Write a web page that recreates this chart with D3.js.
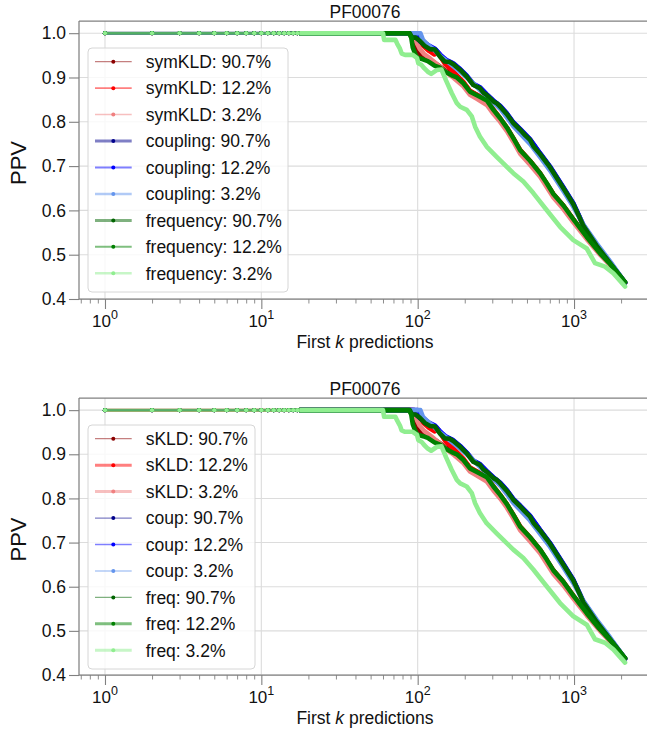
<!DOCTYPE html>
<html>
<head>
<meta charset="utf-8">
<script src="https://cdn.jsdelivr.net/npm/d3@7"></script>
<style>
  html, body { margin: 0; padding: 0; background: #fff; }
  svg { display: block; font-family: "Liberation Sans", Arial, Helvetica, sans-serif; }
</style>
</head>
<body>
<svg id="chart" width="647" height="731"></svg>
<script>
// ---- data -------------------------------------------------------------
const family = "PF00076";
const fractions = ["90.7%", "12.2%", "3.2%"];
const methodsTop = ["symKLD", "coupling", "frequency"];
const methodsBottom = ["sKLD", "coup", "freq"];
const xTickPowers = [0, 1, 2, 3];
const yTicks = [0.4, 0.5, 0.6, 0.7, 0.8, 0.9, 1.0];
// first predictions, drawn as separate markers on the PPV = 1 plateau
const leadK = [1, 2, 3, 4, 5, 6, 7, 8, 9, 10, 11, 12, 13, 14, 15, 16, 17];

// PPV of the first k predictions, [k, ppv]
const symKLD_907 = [[1,1],[90,1],[93,0.985],[97,0.965],[101,0.955],[110,0.948],[120,0.940],[135,0.928],[150,0.916],[170,0.905],[196,0.888],[216,0.869],[239,0.861],[277,0.847],[305,0.826],[337,0.807],[372,0.786],[409,0.762],[452,0.735],[523,0.711],[607,0.683],[738,0.636],[855,0.610],[990,0.579],[1206,0.539],[1466,0.502],[1700,0.478],[2120,0.437]];
const symKLD_122 = [[1,1],[92,1],[96,0.99],[101,0.983],[108,0.972],[118,0.960],[128,0.952],[135,0.956],[150,0.930],[170,0.912],[196,0.890],[216,0.870],[239,0.861],[277,0.848],[305,0.828],[337,0.808],[372,0.787],[409,0.763],[452,0.737],[523,0.712],[607,0.684],[738,0.637],[855,0.611],[990,0.580],[1206,0.540],[1466,0.503],[1700,0.479],[2120,0.437]];
const symKLD_32 = [[1,1],[95,1],[98,0.98],[103,0.965],[110,0.953],[120,0.943],[135,0.928],[150,0.913],[170,0.899],[196,0.880],[216,0.861],[239,0.852],[277,0.838],[305,0.818],[337,0.800],[372,0.779],[409,0.755],[452,0.728],[523,0.703],[607,0.676],[738,0.629],[855,0.603],[990,0.573],[1206,0.535],[1466,0.500],[1700,0.477],[2120,0.436]];
const coupling_907 = [[1,1],[95,1],[98,0.99],[104,0.981],[112,0.972],[121,0.965],[131,0.962],[140,0.948],[152,0.938],[165,0.933],[187,0.918],[206,0.903],[227,0.884],[250,0.877],[277,0.861],[305,0.847],[337,0.835],[372,0.818],[409,0.798],[452,0.783],[523,0.760],[607,0.728],[703,0.698],[855,0.651],[990,0.615],[1147,0.566],[1397,0.521],[1700,0.482],[2120,0.437]];
const coupling_122 = [[1,1],[100,1],[103,0.99],[110,0.980],[118,0.972],[129,0.965],[140,0.951],[152,0.940],[169,0.932],[187,0.919],[206,0.904],[227,0.886],[250,0.878],[277,0.862],[305,0.848],[337,0.836],[372,0.819],[409,0.799],[452,0.784],[523,0.761],[607,0.729],[703,0.699],[855,0.652],[990,0.616],[1147,0.567],[1397,0.522],[1700,0.483],[2120,0.437]];
const coupling_32 = [[1,1],[104,1],[108,0.985],[115,0.975],[125,0.965],[140,0.948],[160,0.932],[190,0.911],[220,0.891],[260,0.866],[300,0.846],[340,0.828],[372,0.810],[409,0.790],[452,0.774],[523,0.750],[607,0.720],[703,0.690],[855,0.644],[990,0.608],[1147,0.568],[1397,0.525],[1700,0.485],[2120,0.437]];
const frequency_907 = [[1,1],[89,1],[92,0.99],[97,0.99],[103,0.983],[111,0.971],[120,0.964],[129,0.963],[139,0.947],[149,0.936],[160,0.935],[169,0.930],[187,0.917],[206,0.902],[227,0.883],[250,0.876],[263,0.866],[277,0.860],[305,0.846],[320,0.842],[337,0.834],[372,0.817],[409,0.797],[452,0.782],[486,0.770],[523,0.759],[550,0.745],[607,0.727],[703,0.697],[855,0.650],[990,0.614],[1092,0.582],[1147,0.565],[1397,0.520],[1700,0.481],[2120,0.438]];
const frequency_122 = [[1,1],[88,1],[91,0.99],[93,0.968],[96,0.955],[99,0.945],[108,0.941],[116,0.937],[128,0.927],[139,0.922],[150,0.913],[165,0.905],[178,0.900],[196,0.887],[216,0.868],[239,0.860],[277,0.848],[305,0.827],[337,0.808],[372,0.787],[409,0.763],[452,0.736],[523,0.712],[607,0.684],[668,0.662],[738,0.637],[855,0.611],[990,0.580],[1206,0.540],[1466,0.503],[1700,0.479],[2120,0.438]];
const frequency_32 = [[1,1],[60,1],[61,0.985],[72,0.985],[74,0.976],[77,0.965],[79,0.954],[83,0.951],[93,0.951],[99,0.944],[101,0.932],[106,0.928],[110,0.921],[116,0.913],[122,0.908],[133,0.917],[142,0.918],[152,0.893],[165,0.865],[178,0.842],[187,0.834],[206,0.827],[222,0.812],[233,0.789],[250,0.767],[276,0.744],[320,0.721],[353,0.706],[409,0.684],[474,0.665],[549,0.639],[668,0.601],[814,0.563],[990,0.533],[1206,0.514],[1362,0.481],[1578,0.473],[1783,0.458],[2120,0.428]];

const seriesValues = [symKLD_907, symKLD_122, symKLD_32,
                      coupling_907, coupling_122, coupling_32,
                      frequency_907, frequency_122, frequency_32];
const seriesColors = ["#8b0000", "#ff0000", "#f08080",
                      "#00008b", "#0000ff", "#6495ed",
                      "#006400", "#008000", "#90ee90"];
// line widths of the two panels
const widthsTop = [1.2, 1.6, 1.5, 3, 2.2, 2.5, 3, 2, 2.6];
const widthsBottom = [1.2, 3, 3, 1.2, 1.5, 1.5, 1.2, 3, 3];

// ---- drawing -----------------------------------------------------------
const svg = d3.select("#chart");
const axisColor = "#808080";
const gridColor = "#dcdcdc";
const textColor = "#111";

const x = d3.scaleLog().domain([0.682, 3107]).range([79, 651]);

function panel(id, top, bottom, methods, widths, boxW) {
  const y = d3.scaleLinear().domain([0.4, 1.0275]).range([bottom, top]);
  const g = svg.append("g");

  const clipId = "clip-" + id;
  g.append("clipPath").attr("id", clipId)
    .append("rect").attr("x", 79).attr("y", top).attr("width", 651 - 79).attr("height", bottom - top);
  const bandClipId = "band-" + id;
  g.append("clipPath").attr("id", bandClipId)
    .append("rect").attr("x", x(17.5)).attr("y", top - 5).attr("width", 651 - x(17.5)).attr("height", bottom - top + 10);

  // grid
  const grid = g.append("g");
  grid.selectAll("line.gx").data(xTickPowers).join("line")
    .attr("x1", d => x(Math.pow(10, d))).attr("x2", d => x(Math.pow(10, d)))
    .attr("y1", top).attr("y2", bottom)
    .attr("stroke", gridColor).attr("stroke-width", 1.1);
  grid.selectAll("line.gy").data(yTicks).join("line")
    .attr("x1", 79).attr("x2", 651)
    .attr("y1", d => y(d)).attr("y2", d => y(d))
    .attr("stroke", gridColor).attr("stroke-width", 1.1);

  // series
  const line = d3.line().x(d => x(d[0])).y(d => y(d[1]));
  const plot = g.append("g").attr("clip-path", `url(#${clipId})`);
  seriesValues.forEach((vals, i) => {
    const s = plot.append("g");
    s.append("path").attr("d", line(vals))
      .attr("fill", "none").attr("stroke", seriesColors[i])
      .attr("stroke-opacity", 0.5).attr("stroke-width", widths[i]);
    // densely packed markers merge into a solid band
    s.append("path").attr("d", line(vals))
      .attr("clip-path", `url(#${bandClipId})`)
      .attr("fill", "none").attr("stroke", seriesColors[i])
      .attr("stroke-width", 4.6).attr("stroke-linejoin", "round").attr("stroke-linecap", "round");
    const plateau = vals[1][0];
    s.selectAll("circle").data(leadK.filter(k => k <= plateau)).join("circle")
      .attr("cx", k => x(k)).attr("cy", y(1)).attr("r", 2.1)
      .attr("fill", seriesColors[i]);
  });

  // spines
  const sp = g.append("g").attr("stroke", axisColor).attr("stroke-width", 1.25);
  sp.append("line").attr("x1", 79).attr("x2", 79).attr("y1", top).attr("y2", bottom);
  sp.append("line").attr("x1", 79).attr("x2", 651).attr("y1", top).attr("y2", top);
  sp.append("line").attr("x1", 79).attr("x2", 651).attr("y1", bottom).attr("y2", bottom);

  // y axis
  const ya = g.append("g").attr("transform", "translate(79,0)")
    .call(d3.axisLeft(y).tickValues(yTicks).tickFormat(d3.format(".1f")).tickSize(10).tickSizeOuter(0).tickPadding(3));
  ya.select(".domain").remove();
  ya.selectAll(".tick line").attr("stroke", axisColor).attr("stroke-width", 1.1);
  ya.selectAll(".tick text").attr("fill", textColor).attr("font-size", 17.5)
    .attr("font-family", "Liberation Sans, Arial, sans-serif");

  // x axis: major and minor ticks
  const minor = [];
  [-1, 0, 1, 2, 3].forEach(p => { for (let m = 2; m <= 9; m++) { const v = m * Math.pow(10, p); if (v >= 0.682 && v <= 3107) minor.push(v); } });
  const xm = g.append("g").attr("transform", `translate(0,${bottom})`)
    .call(d3.axisBottom(x).tickValues(minor).tickFormat("").tickSize(4.5).tickSizeOuter(0));
  xm.select(".domain").remove();
  xm.selectAll(".tick line").attr("stroke", axisColor).attr("stroke-width", 0.9);
  const xa = g.append("g").attr("transform", `translate(0,${bottom})`)
    .call(d3.axisBottom(x).tickValues(xTickPowers.map(p => Math.pow(10, p))).tickFormat("").tickSize(10).tickSizeOuter(0));
  xa.select(".domain").remove();
  xa.selectAll(".tick line").attr("stroke", axisColor).attr("stroke-width", 1.1);
  const xl = g.append("g");
  xTickPowers.forEach(p => {
    const t = xl.append("text").attr("x", x(Math.pow(10, p))).attr("y", bottom + 28)
      .attr("text-anchor", "middle").attr("fill", textColor).attr("font-size", 17);
    t.append("tspan").text("10");
    t.append("tspan").attr("dy", -8).attr("font-size", 12.5).text(String(p));
  });

  // labels
  const xlab = g.append("text").attr("x", 365).attr("y", bottom + 49)
    .attr("text-anchor", "middle").attr("font-size", 17.5).attr("fill", textColor);
  xlab.append("tspan").text("First ");
  xlab.append("tspan").attr("font-style", "italic").text("k");
  xlab.append("tspan").text(" predictions");
  g.append("text").attr("transform", `translate(26,${(top + bottom) / 2 + 3}) rotate(-90)`)
    .attr("text-anchor", "middle").attr("font-size", 22).attr("fill", textColor).text("PPV");
  g.append("text").attr("x", 365).attr("y", top - 3)
    .attr("text-anchor", "middle").attr("font-size", 17.5).attr("fill", textColor).text(family);

  // legend
  const labels = [];
  methods.forEach(m => fractions.forEach(f => labels.push(`${m}: ${f}`)));
  const lg = g.append("g");
  const row0 = top + 40.7, rowStep = 26.45;
  lg.append("rect").attr("x", 88).attr("y", top + 27).attr("width", boxW).attr("height", 244)
    .attr("rx", 4).attr("fill", "#fff").attr("fill-opacity", 0.8)
    .attr("stroke", "#d6d6d6").attr("stroke-width", 1);
  labels.forEach((lab, i) => {
    const cy = row0 + i * rowStep;
    lg.append("line").attr("x1", 95).attr("x2", 131.7).attr("y1", cy).attr("y2", cy)
      .attr("stroke", seriesColors[i]).attr("stroke-opacity", 0.5).attr("stroke-width", widths[i]);
    lg.append("circle").attr("cx", 113.3).attr("cy", cy).attr("r", 2).attr("fill", seriesColors[i]);
    lg.append("text").attr("x", 145.7).attr("y", cy + 6.3).attr("font-size", 17.5).attr("fill", textColor).text(lab);
  });
}

panel("top", 21, 299, methodsTop, widthsTop, 200);
panel("bottom", 398, 675, methodsBottom, widthsBottom, 167);
</script>
</body>
</html>
